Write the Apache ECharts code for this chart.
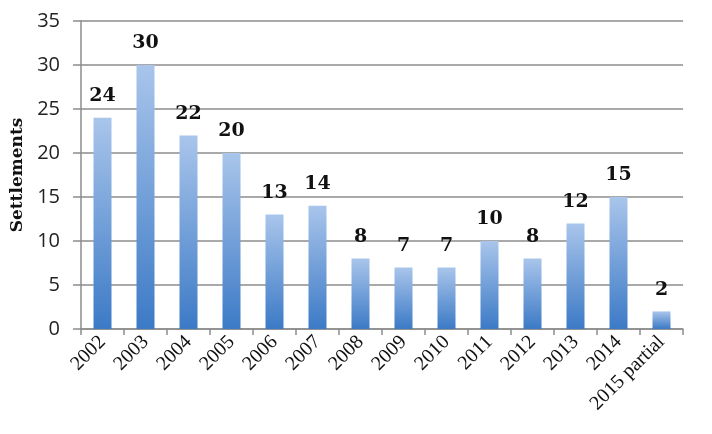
<!DOCTYPE html>
<html>
<head>
<meta charset="utf-8">
<script src="https://cdn.jsdelivr.net/npm/echarts@6/dist/echarts.min.js"></script>
<style>
  html, body { margin: 0; padding: 0; background: #fff; }
  #main { width: 712px; height: 434px; }
</style>
</head>
<body>
<div id="main"></div>
<script>
const years = ['2002', '2003', '2004', '2005', '2006', '2007', '2008', '2009', '2010', '2011', '2012', '2013', '2014', '2015 partial']
const settlements = [24, 30, 22, 20, 13, 14, 8, 7, 7, 10, 8, 12, 15, 2]
const yTicks = { min: 0, max: 35, interval: 5 }

const chart = echarts.init(document.getElementById('main'))

const option = {
  animation: false,
  grid: { left: 81, right: 29, top: 21, bottom: 105 },
  xAxis: {
    type: 'category',
    data: years,
    axisLine: { lineStyle: { color: '#8c8c8c', width: 1.5 } },
    axisTick: { show: true, length: 6, lineStyle: { color: '#8c8c8c', width: 1.5 } },
    axisLabel: {
      rotate: 45,
      interval: 0,
      fontFamily: 'Liberation Serif',
      fontSize: 20,
      color: '#111',
      margin: 10
    }
  },
  yAxis: {
    type: 'value',
    min: yTicks.min,
    max: yTicks.max,
    interval: yTicks.interval,
    name: 'Settlements',
    nameLocation: 'middle',
    nameGap: 54,
    nameTextStyle: {
      fontFamily: 'DejaVu Serif',
      fontWeight: 'bold',
      fontSize: 17,
      color: '#111'
    },
    axisLine: { show: true, lineStyle: { color: '#8c8c8c', width: 1.5 } },
    axisTick: { show: true, length: 8, lineStyle: { color: '#8c8c8c', width: 1.5 } },
    splitLine: { lineStyle: { color: '#8c8c8c', width: 1.5 } },
    axisLabel: {
      fontFamily: 'Open Sans',
      fontSize: 20,
      color: '#222',
      margin: 21
    }
  },
  series: [{
    type: 'bar',
    data: settlements,
    barWidth: 18,
    itemStyle: {
      color: new echarts.graphic.LinearGradient(0, 0, 0, 1, [
        { offset: 0, color: '#a9c5eb' },
        { offset: 1, color: '#3c7ac6' }
      ])
    },
    label: {
      show: true,
      position: 'top',
      distance: 12,
      fontFamily: 'DejaVu Serif',
      fontWeight: 'bold',
      fontSize: 19,
      color: '#111'
    }
  }]
}

chart.setOption(option)
</script>
</body>
</html>
